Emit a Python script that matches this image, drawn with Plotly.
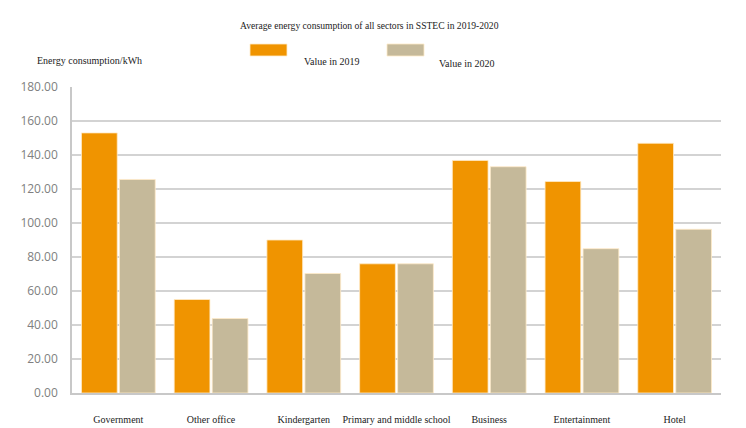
import plotly.graph_objects as go

categories = ["Government", "Other office", "Kindergarten", "Primary and middle school",
              "Business", "Entertainment", "Hotel"]
values_2019 = [153.0, 55.0, 90.0, 76.0, 136.8, 124.4, 146.9]
values_2020 = [125.6, 43.8, 70.3, 76.0, 133.1, 84.9, 96.3]
series_names = ["Value in 2019", "Value in 2020"]
colors = ["#F09400", "#C5B99A"]

serif = "Liberation Serif"

fig = go.Figure()
for name, vals, col in zip(series_names, [values_2019, values_2020], colors):
    fig.add_trace(go.Bar(x=categories, y=vals, name=name,
                         marker=dict(color=col, line=dict(color="rgba(255,235,200,0.8)", width=1)),
                         showlegend=False))

fig.update_layout(
    width=746, height=428,
    margin=dict(l=72, r=25, t=87, b=35),
    paper_bgcolor="white", plot_bgcolor="white",
    barmode="group", bargap=0.18, bargroupgap=0.06,
    title=dict(text="Average energy consumption of all sectors in SSTEC in 2019-2020",
               x=0.495, xanchor="center", y=0.94, yanchor="middle",
               font=dict(family=serif, size=9.6, color="#222")),
    xaxis=dict(showgrid=False, showline=True, linecolor="#C8C8C8", linewidth=1.5,
               ticks="", ticklabelstandoff=16, automargin=False,
               tickfont=dict(family=serif, size=10, color="#222")),
    yaxis=dict(range=[0, 180], dtick=20, tickformat=".2f", showgrid=True,
               gridcolor="#D3D3D3", gridwidth=1.5, showline=True, linecolor="#C8C8C8",
               linewidth=1.5, zeroline=False, ticks="", ticklabelstandoff=10, automargin=False,
               tickfont=dict(family="Open Sans", size=12, color="#808080")),
)

# Legend drawn as swatches + labels (matching the reference layout)
sw = [(250, 287), (387, 424)]
lab = [(332, 61), (467, 63)]
for (x0, x1), (lx, ly), name, col in zip(sw, lab, series_names, colors):
    fig.add_shape(type="rect", xref="paper", yref="paper",
                  x0=(x0 - 72) / 649, x1=(x1 - 72) / 649,
                  y0=(393 - 56) / 306, y1=(393 - 44) / 306,
                  fillcolor=col, line=dict(color="rgba(255,235,200,0.8)", width=1))
    fig.add_annotation(text=name, xref="paper", yref="paper",
                       x=(lx - 72) / 649, y=(393 - ly) / 306, showarrow=False,
                       xanchor="center", yanchor="middle",
                       font=dict(family=serif, size=10, color="#222"))

fig.add_annotation(text="Energy consumption/kWh", xref="paper", yref="paper",
                   x=(35 - 72) / 649, y=(393 - 60) / 306, showarrow=False,
                   xanchor="left", yanchor="middle",
                   font=dict(family=serif, size=10, color="#222"))

fig.write_html("out.html")
